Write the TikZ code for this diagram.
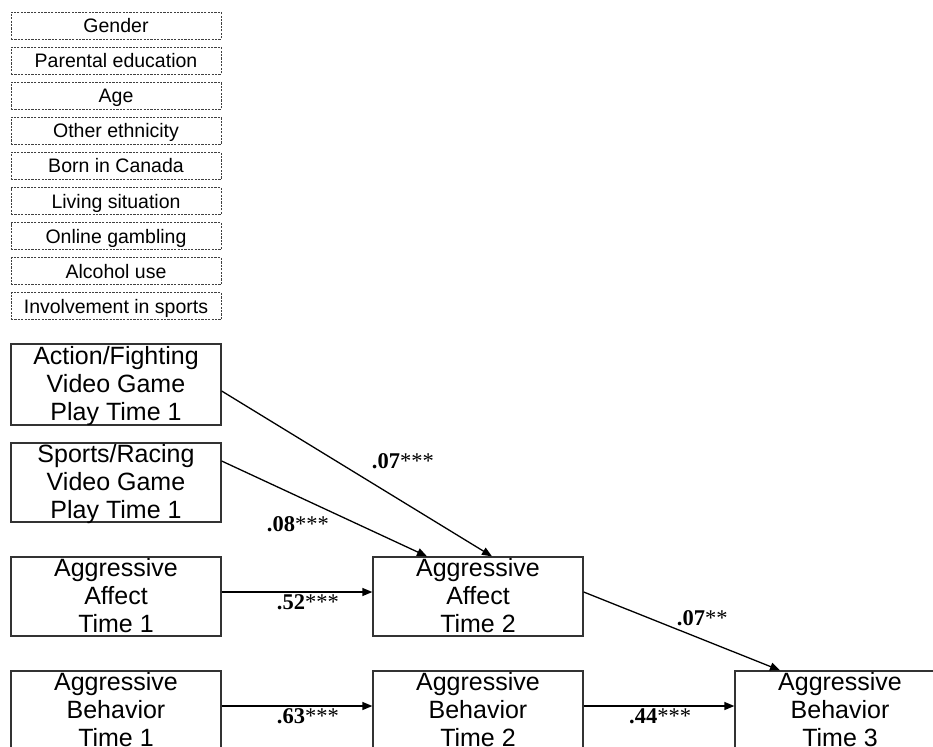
\documentclass[tikz,border=0pt]{standalone}
\usepackage{fontspec}
\usetikzlibrary{arrows.meta}
\newfontfamily\boxfont{Liberation Sans}
\newfontfamily\coeffont{Liberation Serif}

\tikzset{
  covbox/.style={draw=black!75, line width=0.9pt, dash pattern=on 2.2pt off 1.2pt,
    minimum width=210pt, minimum height=27pt, inner sep=0pt,
    font=\boxfont\fontsize{19.5}{22}\selectfont, text height=14pt, text depth=0pt},
  varbox/.style={draw=black!80, line width=1.3pt, minimum width=210pt,
    inner sep=0pt, align=center,
    font=\boxfont\fontsize{25}{28}\selectfont, text height=72pt, text depth=0pt},
  link/.style={draw=black, line width=1.3pt, -{Triangle[length=10pt,width=8pt]}},
  coef/.style={anchor=base west, inner sep=0pt,
    font=\coeffont\fontsize{22.5}{25}\selectfont}
}
\newcommand{\coefval}[2]{\textbf{#1}#2}

\begin{document}
\begin{tikzpicture}[x=1pt, y=-1pt]
  \useasboundingbox (0,0) rectangle (933,746);
  \fill[white] (0,0) rectangle (933,746);
  \clip (0,0) rectangle (933,746);

  % control variables
  \foreach \name [count=\i from 0] in {Gender, Parental education, Age,
      Other ethnicity, Born in Canada, Living situation, Online gambling,
      Alcohol use, Involvement in sports}
    \node[covbox] (cov\i) at (116, 25.5+35.1*\i) {\name};

  % measured variables
  \node[varbox, minimum height=81pt] (act)  at (116, 384.5) {Action/Fighting\\Video Game\\Play Time 1};
  \node[varbox, minimum height=79pt] (spt)  at (116, 482.5) {Sports/Racing\\Video Game\\Play Time 1};
  \node[varbox, minimum height=79pt] (aff1) at (116, 596.5) {Aggressive\\Affect\\Time 1};
  \node[varbox, minimum height=79pt] (beh1) at (116, 710.5) {Aggressive\\Behavior\\Time 1};
  \node[varbox, minimum height=79pt] (aff2) at (478, 596.5) {Aggressive\\Affect\\Time 2};
  \node[varbox, minimum height=79pt] (beh2) at (478, 710.5) {Aggressive\\Behavior\\Time 2};
  \node[varbox, minimum height=79pt] (beh3) at (840, 710.5) {Aggressive\\Behavior\\Time 3};

  % paths
  \draw[link] ([yshift=-6.5pt]act.east) -- ([xshift=14pt]aff2.north);
  \draw[link] ([yshift=21.5pt]spt.east) -- ([xshift=-51pt]aff2.north);
  \draw[link] ([yshift=4.5pt]aff1.east) -- ([yshift=4.5pt]aff2.west);
  \draw[link] ([yshift=4.5pt]beh1.east) -- ([yshift=4.5pt]beh2.west);
  \draw[link] ([yshift=4.5pt]aff2.east) -- ([xshift=-60pt]beh3.north);
  \draw[link] ([yshift=4.5pt]beh2.east) -- ([yshift=4.5pt]beh3.west);

  % path coefficients
  \node[coef] (c1) at (371.7, 468) {\coefval{.07}{***}};
  \node[coef] (c2) at (266.7, 531) {\coefval{.08}{***}};
  \node[coef] (c3) at (276.7, 609) {\coefval{.52}{***}};
  \node[coef] (c4) at (276.7, 723) {\coefval{.63}{***}};
  \node[coef] (c5) at (676.7, 625) {\coefval{.07}{**}};
  \node[coef] (c6) at (629, 723) {\coefval{.44}{***}};
\end{tikzpicture}
\end{document}
